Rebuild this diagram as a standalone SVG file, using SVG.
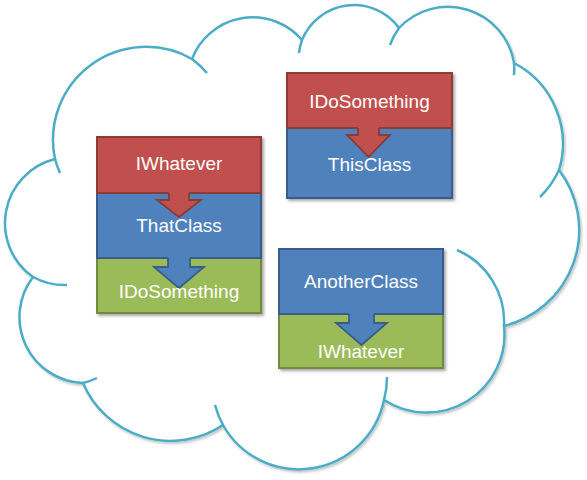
<svg xmlns="http://www.w3.org/2000/svg" width="587" height="480" viewBox="0 0 587 480">
<defs>
<filter id="sh" x="-10%" y="-10%" width="130%" height="130%">
<feDropShadow dx="2" dy="2" stdDeviation="1.5" flood-color="#000" flood-opacity="0.35"/>
</filter>
<filter id="csh" x="-5%" y="-5%" width="115%" height="115%">
<feDropShadow dx="1.5" dy="2" stdDeviation="1.2" flood-color="#000" flood-opacity="0.22"/>
</filter>
</defs>
<style>
.cloud{fill:#fff;stroke:#4BACC6;stroke-width:2.5}
.tail{fill:none;stroke:#4BACC6;stroke-width:2.5}
.red{fill:#C0504D;stroke:#8C3A38;stroke-width:2}
.blue{fill:#4F81BD;stroke:#385D8A;stroke-width:2}
.green{fill:#9BBB59;stroke:#71893F;stroke-width:2}
.rf{fill:#C0504D}
.bf{fill:#4F81BD}
.ro{fill:none;stroke:#8C3A38;stroke-width:1.8;stroke-linejoin:miter}
.bo{fill:none;stroke:#385D8A;stroke-width:1.8;stroke-linejoin:miter}
text{font-family:"Liberation Sans",Arial,sans-serif;font-size:19px;fill:#fff;text-anchor:middle}
</style>
<rect width="587" height="480" fill="#fff"/>
<g id="cloud" filter="url(#csh)">
<path class="cloud" d="M55,159 A93 93 0 0 1 192,59 A65 65 0 0 1 302,40 A56 56 0 0 1 399,28 A67 67 0 0 1 514,63 A91 91 0 0 1 559,170 A99 99 0 0 1 504,326 A78 78 0 0 1 384,400 A87 87 0 0 1 223,425 A95 95 0 0 1 83,383 A66 66 0 0 1 33,277 A66 66 0 0 1 55,159 Z"/>
<path class="tail" d="M60,173 A93 93 0 0 1 55,159 M192,59 A93 93 0 0 1 207,73 M299,53 A56 56 0 0 1 302,40 M390,45 A67 67 0 0 1 399,28 M514,63 A67 67 0 0 1 514,75 M559,170 A91 91 0 0 1 540,197 M457,250 A78 78 0 0 1 504,326 M387,377 A87 87 0 0 1 384,400 M223,425 A87 87 0 0 1 215,405 M97,378 A66 66 0 0 1 83,383 M67,285 A66 66 0 0 1 33,277"/>
</g>
<g id="stack-thatclass" filter="url(#sh)">
<g id="node-idosomething-left"><rect class="green" x="97" y="258" width="164" height="55"/></g>
<g id="node-thatclass"><rect class="blue" x="97" y="193" width="164" height="65"/></g>
<g id="node-iwhatever-left"><rect class="red" x="97" y="137" width="164" height="56"/></g>
</g>
<g id="stack-thisclass" filter="url(#sh)">
<g id="node-thisclass"><rect class="blue" x="287" y="128" width="165" height="70"/></g>
<g id="node-idosomething-right"><rect class="red" x="287" y="73" width="165" height="55"/></g>
</g>
<g id="stack-anotherclass" filter="url(#sh)">
<g id="node-iwhatever-right"><rect class="green" x="279" y="314" width="164" height="54"/></g>
<g id="node-anotherclass"><rect class="blue" x="279" y="249" width="164" height="65"/></g>
</g>
<g id="connectors">
<polygon class="rf" points="169,190 189,190 189,200 201,200 179,217 157,200 169,200"/>
<polyline class="ro" points="169,193 169,200 157,200 179,217 201,200 189,200 189,193"/>
<polygon class="bf" points="168,255 190,255 190,267 204,267 179,288 154,267 168,267"/>
<polyline class="bo" points="168,258 168,267 154,267 179,288 204,267 190,267 190,258"/>
<polygon class="rf" points="358,125 379,125 379,135 390,135 368.5,157 347,135 358,135"/>
<polyline class="ro" points="358,128 358,135 347,135 368.5,157 390,135 379,135 379,128"/>
<polygon class="bf" points="349,311 374,311 374,323 387,323 361.5,345 336,323 349,323"/>
<polyline class="bo" points="349,314 349,323 336,323 361.5,345 387,323 374,323 374,314"/>
</g>
<g id="labels">
<text x="179" y="170">IWhatever</text>
<text x="179" y="232">ThatClass</text>
<text x="179" y="298">IDoSomething</text>
<text x="369.5" y="108">IDoSomething</text>
<text x="369.5" y="171">ThisClass</text>
<text x="361" y="288">AnotherClass</text>
<text x="361" y="358">IWhatever</text>
</g>
</svg>
